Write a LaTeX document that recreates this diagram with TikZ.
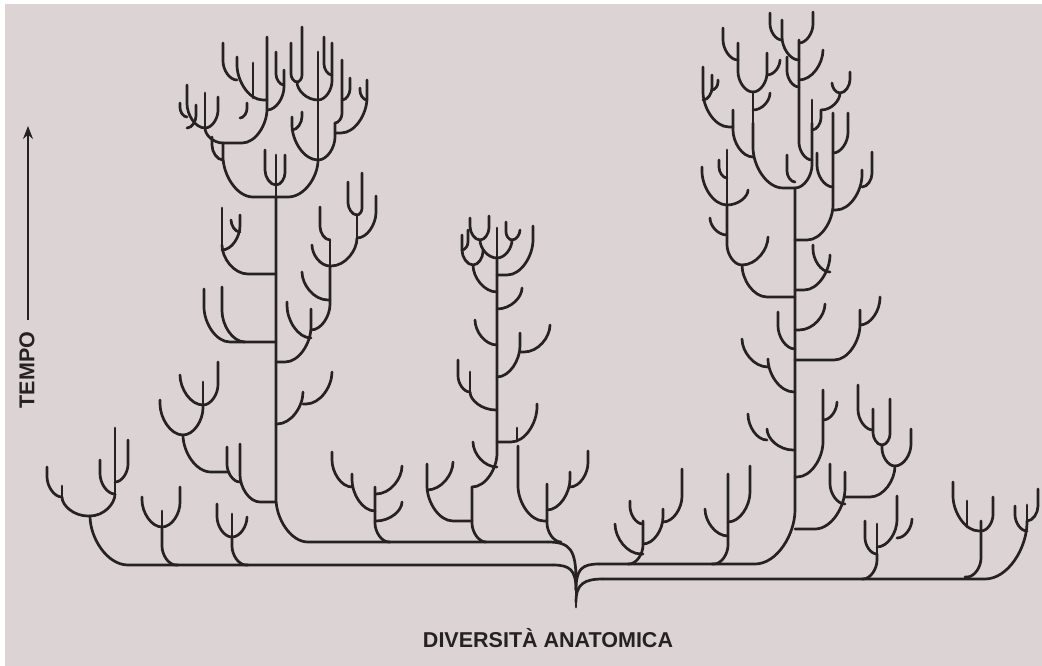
\documentclass[tikz,border=0pt]{standalone}
\usepackage{fontspec}
\setmainfont{Liberation Sans}
\usetikzlibrary{arrows.meta}
\definecolor{bg}{RGB}{220,212,212}
\definecolor{ink}{RGB}{38,34,34}
\tikzset{tree/.style={draw=ink,line width=2.7pt,line cap=round,line join=round},
  lbl/.style={text=ink,font=\fontsize{21.5}{24}\selectfont\bfseries,inner sep=0pt}}
% branch: from parent point (px,py) sideways, curving up to x, then up to ytop
\newcommand\brch[5][26]{%
  \pgfmathsetmacro\Bdx{#4-#2}%
  \pgfmathsetmacro\Brr{min(abs(\Bdx),#1)}%
  \pgfmathsetmacro\Bsg{sign(\Bdx)}%
  \pgfmathsetmacro\Bxa{#4-\Bsg*\Brr}%
  \pgfmathsetmacro\Bxc{\Bxa+\Bsg*0.55*\Brr}%
  \pgfmathsetmacro\Bvv{min(\Brr*1.35,#3-#5)}%
  \pgfmathsetmacro\Bya{#3-\Bvv}%
  \pgfmathsetmacro\Byc{#3-0.55*\Bvv}%
  \draw[tree] (#2,#3) -- (\Bxa,#3) .. controls (\Bxc,#3) and (#4,\Byc) .. (#4,\Bya) -- (#4,#5);}
\newcommand\vstem[3]{\draw[tree] (#1,#2) -- (#1,#3);}
\begin{document}
\begin{tikzpicture}[x=1pt,y=-1pt]
\fill[white] (0,0) rectangle (1042,666);
\fill[bg] (5,4) rectangle (1042,666);
\useasboundingbox (0,0) rectangle (1042,666);
% ---- labels
\coordinate (ta) at (28,320);
\coordinate (tb) at (28,126);
\draw[draw=ink,line width=1.6pt,-{Stealth[length=13pt,width=10pt]}] (ta) -- (tb);
\node[lbl,rotate=90] (tempo) at (27,370) {TEMPO};
\node[lbl] (div) at (548,638) {DIVERSITÀ ANATOMICA};
% ---- root and base lines
\draw[tree] (576,607) -- (576,582);
\draw[tree] (576,580) .. controls (576,550) and (570,542) .. (548,542);
\brch[32]{548}{542}{276}{197}
\draw[tree] (576,590) .. controls (576,570) and (570,565) .. (553,565);
\brch[38]{553}{565}{90}{516}
\draw[tree] (576,590) .. controls (576,569) and (582,564) .. (599,564);
\brch[40]{599}{564}{795}{188}
\draw[tree] (576,602) .. controls (576,584) and (584,579) .. (603,579);
\brch[42]{603}{579}{1027}{521}
% ---- clusters on left base line
\brch[14]{178}{565}{162}{527}
\brch{162}{527}{142}{497}
\vstem{162}{527}{511}
\brch{162}{527}{180}{487}
\brch[14]{248}{565}{232}{537}
\brch{232}{537}{217}{504}
\vstem{232}{537}{514}
\brch{232}{537}{247}{517}
\brch{90}{516}{62}{497}
\brch{62}{497}{47}{467}
\vstem{62}{497}{486}
\brch{90}{516}{115}{494}
\brch{115}{494}{100}{460}
\vstem{115}{494}{428}
\brch{115}{482}{128}{440}
% ---- left big tree: side branches
\brch{276}{274}{222}{245}
\vstem{222}{245}{208}
\brch{222}{250}{240}{215}
\brch{240}{232}{231}{220}
\brch{276}{342}{204}{289}
\brch{245}{342}{222}{287}
\brch[20]{276}{502}{240}{444}
\brch{240}{482}{227}{447}
\brch[28]{229}{472}{183}{435}
\brch{183}{435}{160}{400}
\brch{183}{435}{203}{405}
\brch{203}{405}{180}{375}
\vstem{203}{405}{382}
\brch{203}{405}{218}{362}
\brch{276}{424}{303}{392}
\brch{303}{404}{332}{372}
\brch{276}{362}{311}{309}
\brch{311}{338}{287}{302}
\brch{311}{330}{330}{266}
\brch{330}{300}{302}{272}
\brch{330}{266}{312}{245}
\vstem{330}{266}{240}
\brch{330}{240}{320}{207}
\brch{330}{266}{357}{238}
\brch{357}{238}{376}{196}
\vstem{357}{238}{215}
\brch{357}{215}{348}{182}
\brch{357}{215}{362}{173}
% ---- left big tree: crown
\brch[30]{276}{197}{223}{143}
\brch[30]{276}{197}{318}{160}
\vstem{276}{197}{155}
\brch{276}{185}{265}{150}
\brch{276}{185}{285}{155}
\brch{223}{160}{212}{137}
\brch{223}{143}{205}{128}
\brch{205}{128}{187}{85}
\brch{205}{128}{218}{97}
\vstem{205}{128}{93}
\brch{187}{117}{180}{103}
\brch{187}{128}{196}{105}
\brch[25]{223}{143}{267}{37}
\brch{267}{100}{237}{57}
\vstem{253}{98}{63}
\brch{237}{80}{223}{43}
\brch{240}{118}{247}{103}
\brch{267}{110}{284}{70}
\brch{284}{85}{276}{52}
\brch{318}{160}{292}{117}
\brch{292}{130}{302}{112}
\vstem{318}{160}{52}
\brch{318}{160}{335}{123}
\brch{318}{100}{297}{82}
\brch{297}{82}{291}{43}
\brch{297}{82}{302}{27}
\brch{318}{100}{332}{43}
\brch{332}{75}{324}{37}
\brch{335}{123}{342}{60}
\brch{335}{133}{367}{80}
\brch{342}{100}{350}{78}
\brch{367}{100}{360}{88}
% ---- middle tree
\brch[14]{390}{542}{375}{487}
\brch{375}{511}{352}{474}
\brch{352}{487}{332}{452}
\brch{375}{494}{402}{466}
\brch{375}{521}{402}{502}
\brch[14]{486}{542}{472}{487}
\brch{472}{487}{497}{258}
\brch{472}{521}{427}{464}
\brch{427}{490}{453}{462}
\brch[14]{561}{542}{547}{484}
\brch{547}{510}{570}{472}
\brch{570}{487}{588}{451}
\brch{547}{521}{518}{446}
\brch{497}{292}{473}{265}
\brch{473}{265}{462}{235}
\brch{473}{265}{483}{250}
\brch{497}{345}{475}{320}
\brch{497}{410}{470}{392}
\brch{470}{392}{458}{360}
\vstem{470}{392}{372}
\brch{497}{467}{473}{442}
\brch{497}{309}{522}{288}
\brch{497}{377}{520}{333}
\brch{520}{352}{550}{325}
\brch{497}{442}{537}{404}
\vstem{517}{441}{428}
\brch{497}{258}{480}{240}
\brch{497}{258}{512}{240}
\vstem{497}{258}{228}
\brch{480}{240}{470}{218}
\brch{480}{240}{489}{216}
\brch{512}{240}{506}{222}
\brch{512}{240}{520}{230}
\brch{497}{275}{533}{226}
\brch{462}{250}{468}{230}
% ---- right tree: crown
\brch[30]{795}{188}{753}{123}
\brch{795}{182}{787}{155}
\brch{795}{188}{812}{123}
\brch{753}{157}{733}{110}
\brch{733}{127}{703}{67}
\brch{703}{100}{712}{75}
\brch{712}{90}{718}{80}
\vstem{753}{123}{92}
\brch{753}{92}{738}{43}
\brch{753}{92}{767}{53}
\brch{738}{60}{723}{28}
\brch{767}{75}{780}{60}
\brch{753}{110}{770}{93}
\brch{812}{160}{799}{40}
\brch{799}{43}{813}{12}
\brch{799}{80}{823}{50}
\brch{799}{87}{787}{57}
\brch{799}{60}{782}{20}
\brch{782}{40}{770}{13}
\vstem{812}{123}{100}
\brch{812}{130}{821}{110}
\brch{821}{110}{840}{93}
\brch{840}{93}{832}{83}
\brch{840}{93}{850}{72}
\brch{795}{240}{833}{113}
\brch{833}{187}{817}{153}
\brch{833}{153}{848}{113}
\brch{833}{210}{862}{170}
\brch{862}{187}{872}{152}
% ---- right tree: side branches
\brch{795}{290}{830}{255}
\brch{830}{272}{813}{245}
\brch{795}{330}{825}{304}
\brch{795}{360}{860}{310}
\brch{860}{325}{880}{297}
\brch{795}{477}{823}{390}
\brch{823}{420}{837}{402}
\brch[30]{795}{529}{845}{472}
\brch{845}{504}{830}{464}
\brch[25]{845}{497}{895}{466}
\brch{895}{466}{882}{445}
\brch{882}{445}{873}{409}
\brch{882}{445}{890}{399}
\brch{895}{466}{911}{429}
\brch{873}{430}{858}{385}
\brch[25]{795}{297}{742}{265}
\brch{742}{265}{727}{205}
\brch{742}{265}{768}{237}
\brch{727}{235}{710}{218}
\brch{727}{205}{702}{167}
\vstem{727}{205}{150}
\brch{727}{205}{748}{190}
\brch{727}{178}{719}{160}
\brch{795}{349}{778}{312}
\brch{795}{392}{768}{359}
\brch{768}{367}{742}{339}
\brch{795}{450}{767}{429}
\brch{767}{440}{748}{414}
% ---- clusters on right base lines
\brch[14]{628}{564}{643}{521}
\brch{643}{554}{615}{524}
\brch{643}{524}{630}{501}
\brch{643}{544}{663}{509}
\brch{663}{522}{682}{469}
\brch[14]{712}{564}{728}{474}
\brch{728}{536}{705}{509}
\brch{728}{522}{750}{466}
\brch[14]{862}{579}{877}{554}
\brch{877}{554}{865}{521}
\vstem{877}{554}{524}
\brch{877}{547}{897}{496}
\brch{897}{538}{912}{519}
\brch[14]{965}{577}{981}{521}
\brch{981}{531}{953}{482}
\vstem{967}{527}{501}
\brch{981}{531}{993}{497}
\brch{1027}{531}{1015}{506}
\vstem{1027}{521}{505}
\brch{1027}{521}{1038}{489}
\end{tikzpicture}
\end{document}
